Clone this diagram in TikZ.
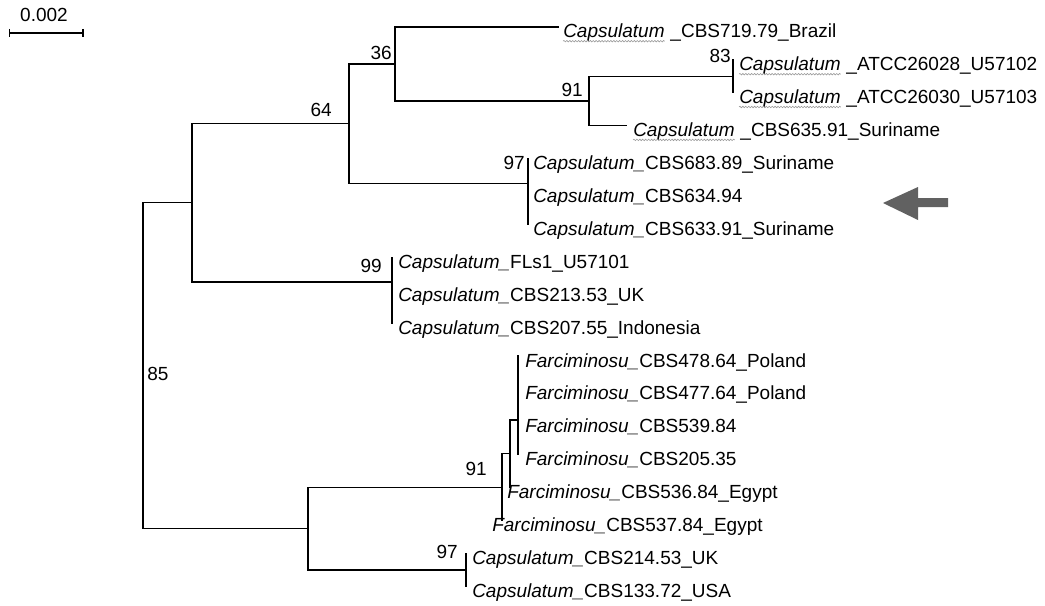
\documentclass[tikz,border=0pt]{standalone}
\usepackage{fontspec}
\setmainfont{Liberation Sans}
\usetikzlibrary{decorations.pathmorphing}
\newcommand\treefs{\fontsize{14.25}{17}\selectfont}
\begin{document}
\begin{tikzpicture}[x=0.75pt,y=-0.75pt,
  br/.style={line width=1pt, black, line cap=rect},
  lab/.style={anchor=base west, inner sep=0pt, font=\treefs},
  bs/.style={anchor=base east, inner sep=0pt, font=\treefs},
  wavy/.style={gray!80, line width=0.45pt, decorate,
    decoration={snake, amplitude=0.55pt, segment length=2.2pt}},
]
\useasboundingbox (0,0) rectangle (1045,606);
\fill[white] (0,0) rectangle (1045,606);

% internal nodes
\coordinate (root) at (143,365.65);
\coordinate (nup)  at (192,202.8);
\coordinate (nlow) at (308,528.5);
\coordinate (n64)  at (349,123.6);
\coordinate (n99)  at (392,282);
\coordinate (n36)  at (395,64);
\coordinate (n97)  at (528,183.3);
\coordinate (n91a) at (589,101);
\coordinate (n83)  at (733,76.35);
\coordinate (n502) at (502,487.2);
\coordinate (n510) at (510,453.8);
\coordinate (n518) at (518,420);
\coordinate (n97b) at (466,569.9);

% leaves
\coordinate (l0)  at (558,27);
\coordinate (l1)  at (733,59.9);
\coordinate (l2)  at (733,92.8);
\coordinate (l3)  at (626,125.7);
\coordinate (l4)  at (528,158.6);
\coordinate (l5)  at (528,191.5);
\coordinate (l6)  at (528,224.4);
\coordinate (l7)  at (392,257.3);
\coordinate (l8)  at (392,290.2);
\coordinate (l9)  at (392,323.1);
\coordinate (l10) at (518,356);
\coordinate (l11) at (518,388.9);
\coordinate (l12) at (518,421.8);
\coordinate (l13) at (518,454.7);
\coordinate (l14) at (510,487.6);
\coordinate (l15) at (502,520.5);
\coordinate (l16) at (466,553.4);
\coordinate (l17) at (466,586.3);

% branches
\draw[br] (root) |- (nup);
\draw[br] (root) |- (nlow);
\draw[br] (nup) |- (n64);
\draw[br] (nup) |- (n99);
\draw[br] (n64) |- (n36);
\draw[br] (n64) |- (n97);
\draw[br] (n36) |- (l0);
\draw[br] (n36) |- (n91a);
\draw[br] (n91a) |- (n83);
\draw[br] (n91a) |- (l3);
\draw[br] (n83) |- (l1);
\draw[br] (n83) |- (l2);
\draw[br] (n97) |- (l4);
\draw[br] (n97) |- (l5);
\draw[br] (n97) |- (l6);
\draw[br] (n99) |- (l7);
\draw[br] (n99) |- (l8);
\draw[br] (n99) |- (l9);
\draw[br] (nlow) |- (n502);
\draw[br] (nlow) |- (n97b);
\draw[br] (n502) |- (n510);
\draw[br] (n502) |- (l15);
\draw[br] (n510) |- (n518);
\draw[br] (n510) |- (l14);
\draw[br] (n518) |- (l10);
\draw[br] (n518) |- (l11);
\draw[br] (n518) |- (l12);
\draw[br] (n518) |- (l13);
\draw[br] (n97b) |- (l16);
\draw[br] (n97b) |- (l17);

% leaf labels with spell-check underline
\node[lab] (t0a) at (563,38) {\itshape Capsulatum};
\node[lab] (t0b) at (t0a.base east) {\ \_CBS719.79\_Brazil};
\node[lab] (t1a) at (739,71) {\itshape Capsulatum};
\node[lab] (t1b) at (t1a.base east) {\ \_ATCC26028\_U57102};
\node[lab] (t2a) at (739,103.8) {\itshape Capsulatum};
\node[lab] (t2b) at (t2a.base east) {\ \_ATCC26030\_U57103};
\node[lab] (t3a) at (633,136.7) {\itshape Capsulatum};
\node[lab] (t3b) at (t3a.base east) {\ \_CBS635.91\_Suriname};
\foreach \t in {t0a,t1a,t2a,t3a}
  \draw[wavy] ([yshift=-2.4pt]\t.base west) -- ([yshift=-2.4pt]\t.base east);

\node[lab] (t4)  at (533,169.6) {\textit{Capsulatum\_}CBS683.89\_Suriname};
\node[lab] (t5)  at (533,202.5) {\textit{Capsulatum\_}CBS634.94};
\node[lab] (t6)  at (533,235.4) {\textit{Capsulatum\_}CBS633.91\_Suriname};
\node[lab] (t7)  at (398,268.3) {\textit{Capsulatum\_}FLs1\_U57101};
\node[lab] (t8)  at (398,301.2) {\textit{Capsulatum\_}CBS213.53\_UK};
\node[lab] (t9)  at (398,334.1) {\textit{Capsulatum\_}CBS207.55\_Indonesia};
\node[lab] (t10) at (525,367)   {\textit{Farciminosu\_}CBS478.64\_Poland};
\node[lab] (t11) at (525,399.9) {\textit{Farciminosu\_}CBS477.64\_Poland};
\node[lab] (t12) at (525,432.8) {\textit{Farciminosu\_}CBS539.84};
\node[lab] (t13) at (525,465.7) {\textit{Farciminosu\_}CBS205.35};
\node[lab] (t14) at (507,498.6) {\textit{Farciminosu\_}CBS536.84\_Egypt};
\node[lab] (t15) at (492,531.5) {\textit{Farciminosu\_}CBS537.84\_Egypt};
\node[lab] (t16) at (472,564.4) {\textit{Capsulatum\_}CBS214.53\_UK};
\node[lab] (t17) at (472,597.3) {\textit{Capsulatum\_}CBS133.72\_USA};

% bootstrap values
\node[bs] (b36)  at (392,60)  {36};
\node[bs] (b64)  at (332,117) {64};
\node[bs] (b91a) at (583,97)  {91};
\node[bs] (b83)  at (731,63)  {83};
\node[bs] (b97)  at (525,170) {97};
\node[bs] (b99)  at (382,272) {99};
\node[anchor=base west, inner sep=0pt, font=\treefs] (b85) at (147,380) {85};
\node[bs] (b91b) at (487,475) {91};
\node[bs] (b97b) at (458,558) {97};

% scale bar
\node[anchor=base, inner sep=0pt, font=\treefs] (sbl) at (44,22) {0.002};
\coordinate (sb1) at (9.5,33);
\coordinate (sb2) at (83,33);
\draw[line width=0.9pt] (sb1) -- (sb2);
\draw[line width=0.9pt] ([yshift=3pt]sb1) -- ([yshift=-3pt]sb1);
\draw[line width=0.9pt] ([yshift=3pt]sb2) -- ([yshift=-3pt]sb2);

% highlight arrow
\fill[black!62] (883,203) -- (918,187) -- (918,198) -- (948,198) -- (948,207)
  -- (918,207) -- (918,220) -- cycle;
\end{tikzpicture}
\end{document}
